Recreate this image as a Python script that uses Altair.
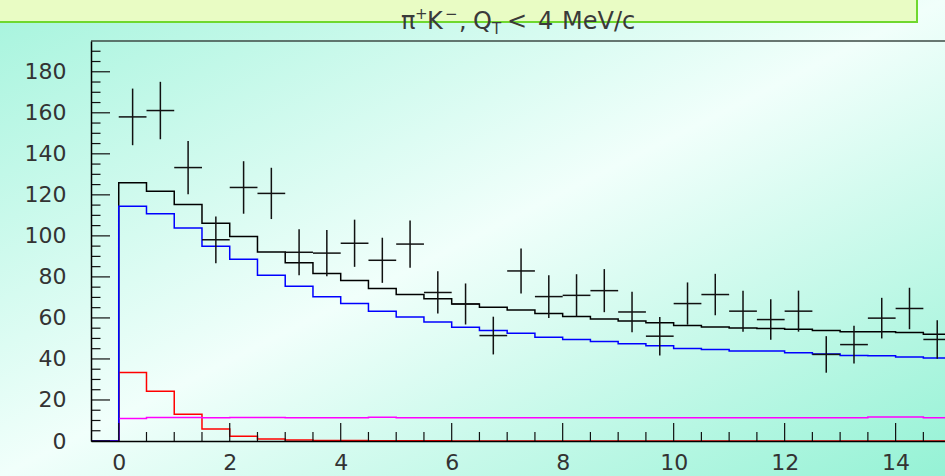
import altair as alt
import pandas as pd

# ---------------- data ----------------
bin_low = [0.0, 0.5, 1.0, 1.5, 2.0, 2.5, 3.0, 3.5, 4.0, 4.5, 5.0, 5.5, 6.0, 6.5, 7.0,
           7.5, 8.0, 8.5, 9.0, 9.5, 10.0, 10.5, 11.0, 11.5, 12.0, 12.5, 13.0, 13.5, 14.0, 14.5]
bin_width = 0.5

total_hist = [125.9, 121.8, 115.3, 106.1, 99.7, 92.1, 86.9, 81.6, 78.3, 74.3, 71.4, 69.3, 66.8, 65.2, 63.9,
              62.1, 60.7, 59.5, 58.5, 57.7, 56.3, 55.6, 55.1, 54.8, 54.5, 53.9, 53.2, 53.2, 52.9, 52.1]
blue_hist = [114.5, 110.8, 103.8, 94.9, 88.6, 80.8, 75.5, 70.3, 67.0, 63.2, 60.5, 58.0, 55.4, 53.9, 52.5,
             50.6, 49.5, 48.5, 47.4, 46.4, 45.1, 44.6, 43.9, 43.9, 43.0, 42.4, 41.7, 41.5, 41.0, 40.5]
red_hist = [33.4, 24.2, 13.0, 5.8, 2.3, 1.0, 0.5, 0.3, 0.2, 0.1, 0.1, 0.1, 0.05, 0.0, 0.0,
            0.0, 0.0, 0.0, 0.0, 0.0, 0.0, 0.0, 0.0, 0.0, 0.0, 0.0, 0.0, 0.0, 0.0, 0.0]
magenta_hist = [11.0, 11.4, 11.4, 11.3, 11.4, 11.4, 11.3, 11.3, 11.3, 11.6, 11.3, 11.3, 11.3, 11.3, 11.3,
                11.3, 11.3, 11.3, 11.3, 11.3, 11.3, 11.3, 11.3, 11.3, 11.3, 11.3, 11.3, 11.7, 11.7, 11.3]

data_y = [158.0, 161.1, 133.3, 98.1, 123.6, 120.7, 92.0, 91.6, 96.4, 88.1, 96.0, 72.4, 66.8, 51.4, 82.9,
          70.4, 71.0, 73.3, 62.9, 51.1, 67.0, 71.4, 63.3, 59.2, 63.3, 42.2, 47.0, 59.9, 64.6, 49.5]
data_err = [13.8, 14.0, 13.0, 11.4, 12.8, 12.5, 11.2, 11.3, 11.5, 11.0, 11.5, 10.3, 10.0, 9.2, 11.0,
            10.4, 10.3, 10.5, 9.9, 9.4, 10.3, 10.1, 10.0, 9.9, 10.0, 8.9, 9.2, 9.9, 10.1, 9.4]

y_labels = [0, 20, 40, 60, 80, 100, 120, 140, 160, 180]
x_labels = [0, 2, 4, 6, 8, 10, 12, 14]

# ---------------- layout ----------------
PW, PH = 854, 400
PAD_L, PAD_T, PAD_B = 91, 41, 35
FONT = "DejaVu Sans"

xs = alt.Scale(domain=[-0.5, 14.89], nice=False, zero=False)
ys = alt.Scale(domain=[0, 195], nice=False, zero=False)


def hist_df(vals):
    xs_ = [-0.5] + bin_low + [bin_low[-1] + bin_width]
    ys_ = [0.0] + vals + [vals[-1]]
    return pd.DataFrame({"x": xs_, "y": ys_})


def hist_layer(vals, color):
    return alt.Chart(hist_df(vals)).mark_line(
        interpolate="step-after", color=color, strokeWidth=1.5, clip=True
    ).encode(
        x=alt.X("x:Q", scale=xs, axis=alt.Axis(values=x_labels, format="d", ticks=False, grid=False,
                                               labelFont=FONT, labelFontSize=22, labelColor="#333",
                                               labelPadding=11, domainColor="#000", domainWidth=1.5,
                                               title=None, labelFlush=False, zindex=1)),
        y=alt.Y("y:Q", scale=ys, axis=alt.Axis(values=y_labels, format="d", ticks=False, grid=False,
                                               labelFont=FONT, labelFontSize=22, labelColor="#333",
                                               labelPadding=25, domainColor="#000", domainWidth=1.5,
                                               title=None, labelFlush=False, zindex=1)),
    )


# background gradient over the whole canvas
bg = alt.Chart(pd.DataFrame({"a": [0]})).mark_rect(
    fill={"gradient": "linear", "x1": 0, "y1": 0, "x2": 1, "y2": 1,
          "stops": [{"offset": 0, "color": "#a6f4dd"},
                    {"offset": 0.5, "color": "#f1fffb"},
                    {"offset": 1, "color": "#95f2d5"}]},
    strokeWidth=0,
).encode(x=alt.value(-PAD_L), x2=alt.value(PW), y=alt.value(-PAD_T), y2=alt.value(PH + PAD_B))

# title box
tbox = alt.Chart(pd.DataFrame({"a": [0]})).mark_rect(
    fill="#e9fcc4", stroke="#6fd82e", strokeWidth=2
).encode(x=alt.value(-PAD_L - 3), x2=alt.value(917 - PAD_L), y=alt.value(-PAD_T - 3), y2=alt.value(22 - PAD_T))

# top frame line
top_line = alt.Chart(pd.DataFrame({"a": [0]})).mark_rule(color="#3d4a45", strokeWidth=1.5).encode(
    x=alt.value(0), x2=alt.value(PW), y=alt.value(0))

# ticks (ROOT style, pointing inward)
y_major = pd.DataFrame({"v": list(range(0, 181, 20))})
y_minor = pd.DataFrame({"v": [v for v in range(5, 195, 5) if v % 20 != 0]})
x_major = pd.DataFrame({"v": x_labels})
x_minor = pd.DataFrame({"v": [b for b in bin_low if b % 2 != 0]})

tick_style = dict(color="#111", strokeWidth=1.2)
ytM = alt.Chart(y_major).mark_rule(**tick_style).encode(y=alt.Y("v:Q", scale=ys), x=alt.value(0), x2=alt.value(19))
ytm = alt.Chart(y_minor).mark_rule(**tick_style).encode(y=alt.Y("v:Q", scale=ys), x=alt.value(0), x2=alt.value(9.5))
xtM = alt.Chart(x_major).mark_rule(**tick_style).encode(x=alt.X("v:Q", scale=xs), y=alt.value(PH), y2=alt.value(PH - 18))
xtm = alt.Chart(x_minor).mark_rule(**tick_style).encode(x=alt.X("v:Q", scale=xs), y=alt.value(PH), y2=alt.value(PH - 9))

# data points with error bars
pts = pd.DataFrame({"lo": bin_low, "y": data_y, "err": data_err})
pts["c"] = pts["lo"] + bin_width / 2
pts["hi"] = pts["lo"] + bin_width
pts["ylo"] = pts["y"] - pts["err"]
pts["yhi"] = pts["y"] + pts["err"]
vbars = alt.Chart(pts).mark_rule(color="#111", strokeWidth=1.5, clip=True).encode(
    x=alt.X("c:Q", scale=xs), y=alt.Y("ylo:Q", scale=ys), y2="yhi:Q")
hbars = alt.Chart(pts).mark_rule(color="#111", strokeWidth=1.5, clip=True).encode(
    x=alt.X("lo:Q", scale=xs), x2="hi:Q", y=alt.Y("y:Q", scale=ys))

# title pieces
tparts = pd.DataFrame({
    "t": ["π", "+", "K", "−", ",", "Q", "T", "<", "4", "MeV/c"],
    "px": [401, 415, 427, 445, 459, 473, 492, 507, 538, 562],
    "py": [29, 19, 29, 19, 29, 29, 34, 29, 29, 29],
    "fs": [24, 15, 24, 15, 24, 24, 15, 24, 24, 24],
})
tparts["px"] = tparts["px"] - PAD_L
tparts["py"] = tparts["py"] - PAD_T
title = alt.Chart(tparts).mark_text(font=FONT, color="#3a3a3a", align="left", baseline="alphabetic").encode(
    x=alt.X("px:Q", scale=None), y=alt.Y("py:Q", scale=None), text="t:N", size=alt.Size("fs:Q", scale=None))

chart = alt.layer(
    bg, tbox,
    hist_layer(total_hist, "#000000"),
    hist_layer(red_hist, "#ff0000"),
    hist_layer(magenta_hist, "#ff00ff"),
    hist_layer(blue_hist, "#0000ff"),
    vbars, hbars,
    ytM, ytm, xtM, xtm, top_line, title,
).properties(
    width=PW, height=PH,
    autosize=alt.AutoSizeParams(type="none"),
    padding={"left": PAD_L, "top": PAD_T, "right": 0, "bottom": PAD_B},
).configure_view(stroke=None).configure(background="#a6f4dd")

chart.save("out.html", embed_options={"renderer": "svg", "actions": False})
